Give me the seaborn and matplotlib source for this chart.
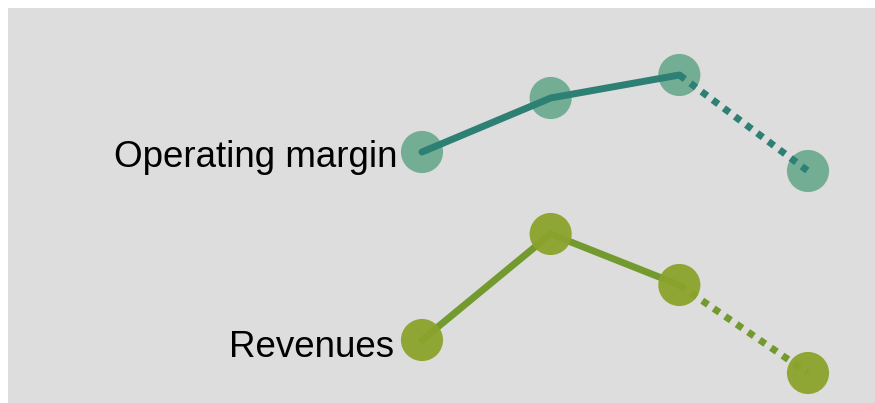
import pandas as pd
import matplotlib.pyplot as plt
import seaborn as sns

periods = [0, 1, 2, 3]
operating_margin = [251, 305, 328, 232]
revenues = [63, 169, 118, 30]
labels = ['Operating margin', 'Revenues']

sns.set_theme(style='white')
plt.rcParams['font.family'] = ['Liberation Sans', 'DejaVu Sans']

fig = plt.figure(figsize=(8.75, 4.03), dpi=100)
ax = fig.add_axes([8 / 875, 0, 1 - 8 / 875, 395 / 403])
ax.set_facecolor('#dddddd')

om = pd.DataFrame({'x': periods, 'y': operating_margin})
rev = pd.DataFrame({'x': periods, 'y': revenues})

# operating margin: markers under the line
sns.scatterplot(data=om, x='x', y='y', s=920, color='#5fa587', alpha=0.85,
                edgecolor='none', ax=ax, zorder=2)
sns.lineplot(data=om.iloc[:3], x='x', y='y', color='#2e7f74', linewidth=5,
             ax=ax, zorder=3)
sns.lineplot(data=om.iloc[2:], x='x', y='y', color='#2e7f74', linewidth=5,
             linestyle=(0, (1, 1)), ax=ax, zorder=3)

# revenues: markers over the line
sns.lineplot(data=rev.iloc[:3], x='x', y='y', color='#739a2f', linewidth=5,
             ax=ax, zorder=2)
sns.lineplot(data=rev.iloc[2:], x='x', y='y', color='#739a2f', linewidth=5,
             linestyle=(0, (1, 1)), ax=ax, zorder=2)
sns.scatterplot(data=rev, x='x', y='y', s=920, color='#8ba32c', alpha=0.95,
                edgecolor='none', ax=ax, zorder=3)

ax.annotate(labels[0], (periods[0], operating_margin[0]), xytext=(-25, -15),
            textcoords='offset pixels', ha='right', va='baseline', fontsize=26.5,
            color='black')
ax.annotate(labels[1], (periods[0], revenues[0]), xytext=(-28, -17),
            textcoords='offset pixels', ha='right', va='baseline', fontsize=26.5,
            color='black')

# x=0 at 422px, x=3 at 808px
step = (808 - 422) / 3
ax.set_xlim(-(422 - 8) / step, 3 + (875 - 808) / step)
ax.set_ylim(0, 395)
ax.set_xlabel('')
ax.set_ylabel('')
ax.set_xticks([])
ax.set_yticks([])
for s in ax.spines.values():
    s.set_visible(False)

fig.savefig('out.png', dpi=100)
